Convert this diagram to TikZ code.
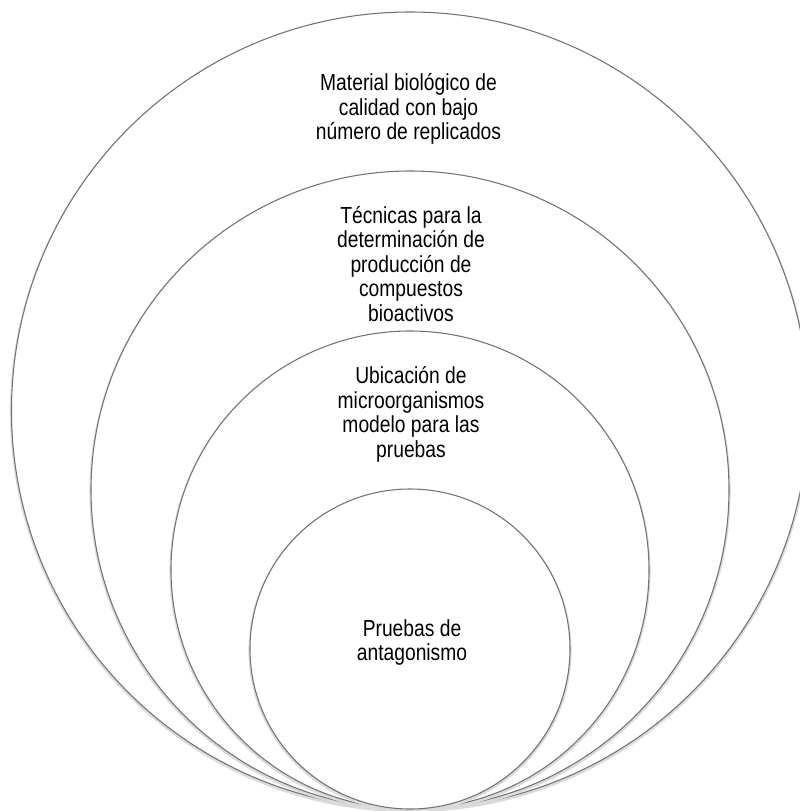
\documentclass[tikz,border=0pt]{standalone}
\usepackage{fontspec}
\setmainfont{Liberation Sans}
\newfontfamily\narrowsans[FakeStretch=0.83]{Liberation Sans}
\begin{document}
\begin{tikzpicture}[x=0.75pt,y=-0.75pt,
  ring/.style={circle, draw=black!55, line width=0.8pt, fill=white,
               inner sep=0pt, outer sep=0pt},
  halo/.style={circle, draw=black!14, line width=2.4pt, inner sep=0pt},
  caption/.style={font=\narrowsans\fontsize{17.4}{18.4}\selectfont, align=center,
                  text=black, inner sep=0pt}]
\clip (0,0) rectangle (800,811);
\fill[white] (0,0) rectangle (800,811);

% nested circles, all touching at the bottom
\node[halo, minimum size=597.75pt] (outerhalo) at (410,412) {};
\node[ring, minimum size=597.75pt] (outer) at (410,410.5) {};
\node[halo, minimum size=478.5pt] (secondhalo) at (410,491.5) {};
\node[ring, minimum size=478.5pt] (second) at (410,490) {};
\node[halo, minimum size=358.5pt] (thirdhalo) at (410,571.5) {};
\node[ring, minimum size=358.5pt] (third) at (410,570) {};
\node[halo, minimum size=240pt] (innerhalo) at (410,650.5) {};
\node[ring, minimum size=240pt] (inner) at (410,649) {};

% texts
\node[caption] (t1) at (408.5,109) {Material biológico de\\calidad con bajo\\número de replicados};
\node[caption] (t2) at (411,264) {Técnicas para la\\determinación de\\producción de\\compuestos\\bioactivos};
\node[caption] (t3) at (411,414.5) {Ubicación de\\microorganismos\\modelo para las\\pruebas};
\node[caption] (t4) at (412,642.5) {Pruebas de\\antagonismo};
\end{tikzpicture}
\end{document}
